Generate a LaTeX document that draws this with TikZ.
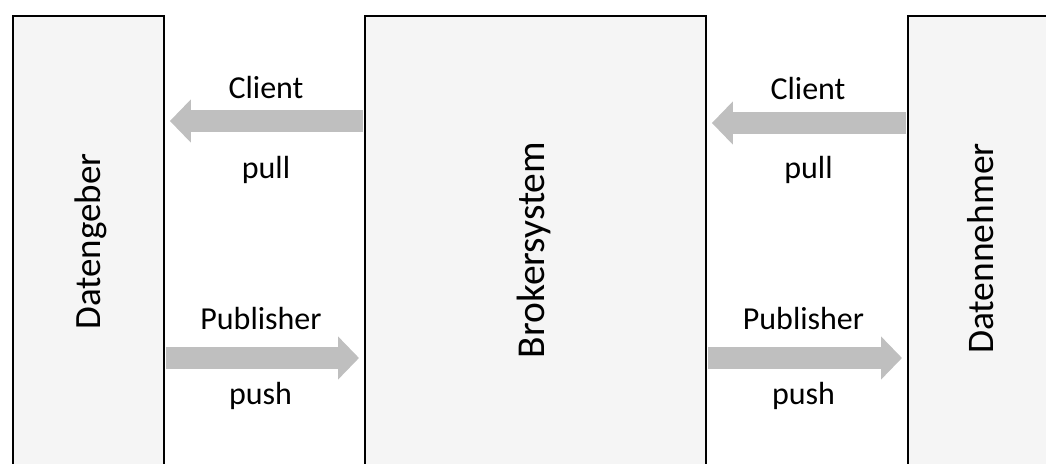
\documentclass[tikz,border=0pt]{standalone}
\usepackage{fontspec}
\setmainfont{Carlito}
\usetikzlibrary{arrows.meta}
\definecolor{boxfill}{HTML}{F5F5F5}
\definecolor{arrowgray}{HTML}{BFBFBF}
\begin{document}
\begin{tikzpicture}[x=1pt,y=-1pt,
  box/.style={draw=black, line width=1.9pt, fill=boxfill, inner sep=0pt, anchor=north west, minimum height=455pt},
  vlabel/.style={rotate=90, anchor=base, inner sep=0pt, font=\fontsize{37}{44}\selectfont},
  hlabel/.style={anchor=base, inner sep=0pt, font=\fontsize{32}{38}\selectfont},
  flow/.style={draw=arrowgray, line width=22pt, shorten <=1pt, shorten >=5pt, -{Triangle[width=42pt,length=21pt]}}]
\useasboundingbox (0,0) rectangle (1046,463);
\node[box, minimum width=151pt] (geber) at (12,15) {};
\node[box, minimum width=341pt] (broker) at (364,15) {};
\node[box, minimum width=151pt] (nehmer) at (907,15) {};
\node[vlabel] (tgeber) at (100,241.5) {Datengeber};
\node[vlabel, font=\fontsize{39.5}{46}\selectfont] (tbroker) at (544,250) {Brokersystem};
\node[vlabel, font=\fontsize{37.5}{44}\selectfont] (tnehmer) at (993,248.5) {Datennehmer};
\coordinate (yL) at (0,121);
\coordinate (yR) at (0,123);
\coordinate (yB) at (0,358);
\draw[flow] (broker.west |- yL) -- (geber.east |- yL);
\draw[flow] (nehmer.west |- yR) -- (broker.east |- yR);
\draw[flow] (geber.east |- yB) -- (broker.west |- yB);
\draw[flow] (broker.east |- yB) -- (nehmer.west |- yB);
\node[hlabel] (c1) at (266,98) {Client};
\node[hlabel] (p1) at (266,178) {pull};
\node[hlabel] (pb1) at (261,329) {Publisher};
\node[hlabel] (ps1) at (260.5,404) {push};
\node[hlabel] (c2) at (808,99) {Client};
\node[hlabel] (p2) at (808.5,178) {pull};
\node[hlabel] (pb2) at (803.5,329) {Publisher};
\node[hlabel] (ps2) at (803.5,404) {push};
\end{tikzpicture}
\end{document}
